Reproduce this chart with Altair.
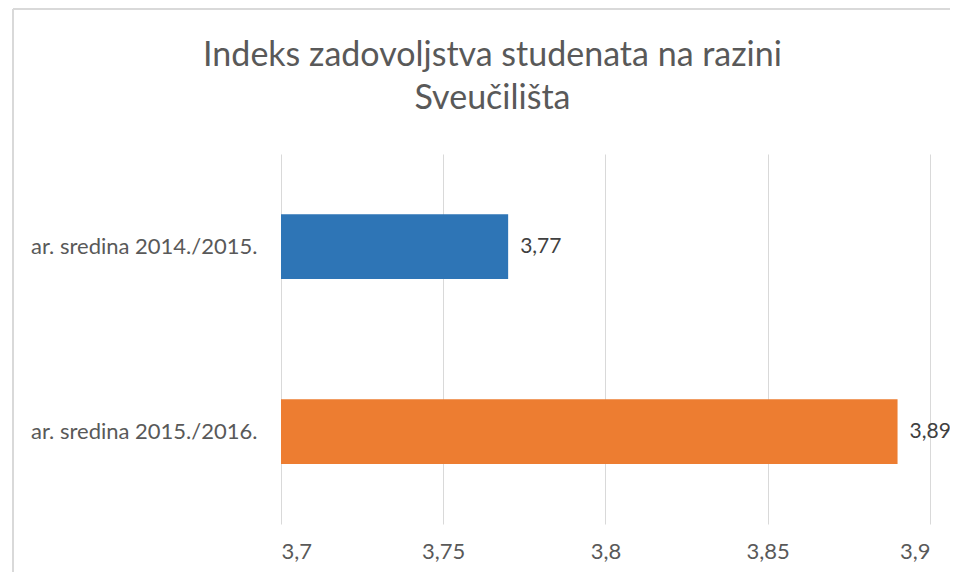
import altair as alt
import pandas as pd

categories = ["ar. sredina 2014./2015.", "ar. sredina 2015./2016."]
values = [3.77, 3.89]
colors = ["#2E75B6", "#ED7D31"]
x_ticks = [3.7, 3.75, 3.8, 3.85, 3.9]
title_lines = ["Indeks zadovoljstva studenata na razini", "Sveučilišta"]

FONT = "Lato"
df = pd.DataFrame({"cat": categories, "val": values})

x = alt.X("val:Q", scale=alt.Scale(domain=[3.7, 3.9], nice=False, zero=False),
          axis=alt.Axis(values=x_ticks, title=None, domain=False, ticks=False,
                        labelExpr="replace(datum.label, '.', ',')",
                        labelFontSize=22, labelColor="#595959", labelFont=FONT,
                        labelPadding=17, grid=True, gridColor="#d9d9d9",
                        format=".2~f"))
y = alt.Y("cat:N", sort=categories,
          scale=alt.Scale(paddingInner=0.65, paddingOuter=0.325),
          axis=alt.Axis(title=None, domain=False, ticks=False, grid=False,
                        labelFontSize=22, labelColor="#595959", labelFont=FONT,
                        labelPadding=24, labelLimit=400))

bars = alt.Chart(df).mark_bar(clip=True).encode(
    x=x, y=y,
    color=alt.Color("cat:N", scale=alt.Scale(domain=categories, range=colors), legend=None),
)
labels = alt.Chart(df).transform_calculate(
    lab="replace(format(datum.val, '.2f'), '.', ',')"
).mark_text(align="left", baseline="middle", dx=12, fontSize=21, font=FONT,
            color="#404040").encode(x="val:Q", y=alt.Y("cat:N", sort=categories), text="lab:N")

border_v = alt.Chart(df.head(1)).mark_rule(color="#d9d9d9", strokeWidth=2).encode(
    x=alt.value(-268), y=alt.value(-145), y2=alt.value(600))
border_h = alt.Chart(df.head(1)).mark_rule(color="#d9d9d9", strokeWidth=2).encode(
    x=alt.value(-268), x2=alt.value(1000), y=alt.value(-145))

chart = alt.layer(border_v, border_h, bars, labels).properties(
    width=649, height=370,
    padding={"left": 273, "top": 146, "right": 20, "bottom": 48},
    autosize=alt.AutoSizeParams(type="none"),
    title=alt.TitleParams(title_lines, fontSize=34, font=FONT, color="#595959",
                          fontWeight="normal", anchor="middle", dx=-113,
                          offset=-108, lineHeight=43),
).configure_view(stroke=None)

chart.save("out.html", embed_options={"renderer": "svg", "actions": False})
